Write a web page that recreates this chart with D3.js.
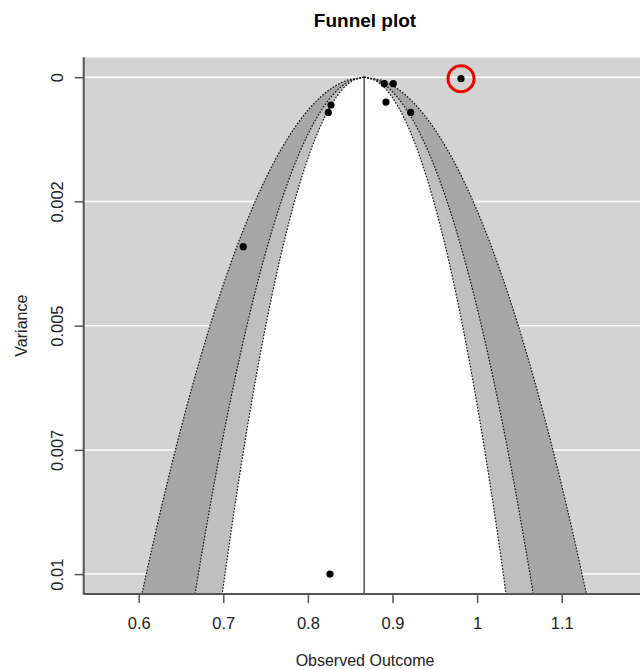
<!DOCTYPE html>
<html>
<head>
<meta charset="utf-8">
<script src="https://cdn.jsdelivr.net/npm/d3@7"></script>
<style>
  body { margin: 0; background: #fff; }
  svg text { font-family: "Liberation Sans", Arial, sans-serif; }
</style>
</head>
<body>
<svg id="chart" width="640" height="669"></svg>
<script>
// study estimates
var outcomes  = [0.8903, 0.9009, 0.8923, 0.9215, 0.8273, 0.8241, 0.9810, 0.7236, 0.8261];
var variances = [0.00013, 0.00013, 0.00050, 0.00071, 0.00056, 0.00071, 0.00003, 0.00341, 0.01000];
var flagged   = [6];   // study circled in red

var pooled = 0.8665;
var contourZ = [2.576, 1.960, 1.645];   // 99%, 95%, 90%
var contourFill = ['#a6a6a6', '#bfbfbf', '#ffffff'];

var xTicks = [0.6, 0.7, 0.8, 0.9, 1.0, 1.1];
var xTickLabels = ['0.6', '0.7', '0.8', '0.9', '1', '1.1'];
var yTicks = [0, 0.0025, 0.005, 0.0075, 0.01];
var yTickLabels = ['0', '0.002', '0.005', '0.007', '0.01'];

var svg = d3.select('#chart');
var plotLeft = 83.7, plotRight = 646.3, plotTop = 57.3, plotBottom = 594;

var x = d3.scaleLinear().domain([0.535, 1.2]).range([plotLeft, plotRight]);
var y = d3.scaleLinear().domain([-0.0004, 0.0104]).range([plotTop, plotBottom]);

svg.append('clipPath').attr('id', 'plotClip')
    .append('rect').attr('x', plotLeft).attr('y', plotTop)
    .attr('width', plotRight - plotLeft).attr('height', plotBottom - plotTop);

var plot = svg.append('g').attr('clip-path', 'url(#plotClip)');

plot.append('rect')
    .attr('x', plotLeft).attr('y', plotTop)
    .attr('width', plotRight - plotLeft).attr('height', plotBottom - plotTop)
    .attr('fill', '#d3d3d3');

// grid lines
plot.selectAll('.grid').data(yTicks).enter().append('line')
    .attr('x1', plotLeft).attr('x2', plotRight)
    .attr('y1', function (d) { return y(d); })
    .attr('y2', function (d) { return y(d); })
    .attr('stroke', '#ffffff').attr('stroke-width', 1.5);

// funnel contours
var vSteps = d3.range(0, 201).map(function (i) { return y.domain()[1] * i / 200; });

function funnelPath(z) {
    var pts = vSteps.map(function (v) { return [x(pooled - z * Math.sqrt(v)), y(v)]; });
    var back = vSteps.slice().reverse().map(function (v) { return [x(pooled + z * Math.sqrt(v)), y(v)]; });
    return d3.line()(pts.concat(back)) + 'Z';
}

function edgePath(z, sign) {
    return d3.line()(vSteps.map(function (v) { return [x(pooled + sign * z * Math.sqrt(v)), y(v)]; }));
}

contourZ.forEach(function (z, i) {
    plot.append('path').attr('d', funnelPath(z))
        .attr('fill', contourFill[i]).attr('stroke', 'none');
});

contourZ.forEach(function (z) {
    [-1, 1].forEach(function (s) {
        plot.append('path').attr('d', edgePath(z, s))
            .attr('fill', 'none').attr('stroke', '#111')
            .attr('stroke-width', 1.2).attr('stroke-dasharray', '1.6,1.6');
    });
});

plot.append('line')
    .attr('x1', x(pooled)).attr('x2', x(pooled))
    .attr('y1', y(0)).attr('y2', plotBottom)
    .attr('stroke', '#333').attr('stroke-width', 1.3);

// studies
plot.selectAll('.pt').data(outcomes).enter().append('circle')
    .attr('cx', function (d) { return x(d); })
    .attr('cy', function (d, i) { return y(variances[i]); })
    .attr('r', 3.6).attr('fill', '#000');

// axes frame (L shape)
svg.append('line').attr('x1', plotLeft).attr('x2', plotLeft)
    .attr('y1', plotTop).attr('y2', plotBottom + 0.5)
    .attr('stroke', '#555').attr('stroke-width', 2);
svg.append('line').attr('x1', plotLeft).attr('x2', 640)
    .attr('y1', plotBottom).attr('y2', plotBottom)
    .attr('stroke', '#555').attr('stroke-width', 2);

var xAxis = svg.append('g').attr('transform', 'translate(0,' + plotBottom + ')')
    .call(d3.axisBottom(x).tickValues(xTicks).tickSize(9).tickPadding(14)
        .tickFormat(function (d, i) { return xTickLabels[i]; }));
xAxis.select('.domain').remove();
xAxis.selectAll('line').attr('stroke', '#555').attr('stroke-width', 1.5);
xAxis.selectAll('text').attr('font-size', 16.5).attr('fill', '#222')
    .attr('font-family', '"Liberation Sans", Arial, sans-serif');

var yAxis = svg.append('g').attr('transform', 'translate(' + plotLeft + ',0)')
    .call(d3.axisLeft(y).tickValues(yTicks).tickSize(9).tickPadding(0)
        .tickFormat(function (d, i) { return yTickLabels[i]; }));
yAxis.select('.domain').remove();
yAxis.selectAll('line').attr('stroke', '#555').attr('stroke-width', 1.5);
yAxis.selectAll('text')
    .attr('font-size', 16.5).attr('fill', '#222')
    .attr('font-family', '"Liberation Sans", Arial, sans-serif')
    .attr('text-anchor', 'middle').attr('x', 0).attr('dy', 0)
    .attr('transform', 'translate(-21,0) rotate(-90)');

// red highlight
svg.selectAll('.flag').data(flagged).enter().append('circle')
    .attr('cx', function (i) { return x(outcomes[i]); })
    .attr('cy', function (i) { return y(variances[i]); })
    .attr('r', 13).attr('fill', 'none')
    .attr('stroke', '#ee0000').attr('stroke-width', 3);

// titles
svg.append('text').attr('x', (plotLeft + plotRight) / 2).attr('y', 27)
    .attr('text-anchor', 'middle').attr('font-size', 19).attr('font-weight', 'bold')
    .attr('fill', '#000').text('Funnel plot');

svg.append('text').attr('x', (plotLeft + plotRight) / 2).attr('y', 666)
    .attr('text-anchor', 'middle').attr('font-size', 16).attr('fill', '#222')
    .text('Observed Outcome');

svg.append('text').attr('transform', 'translate(27,' + ((plotTop + plotBottom) / 2) + ') rotate(-90)')
    .attr('text-anchor', 'middle').attr('font-size', 16).attr('fill', '#222')
    .text('Variance');
</script>
</body>
</html>
